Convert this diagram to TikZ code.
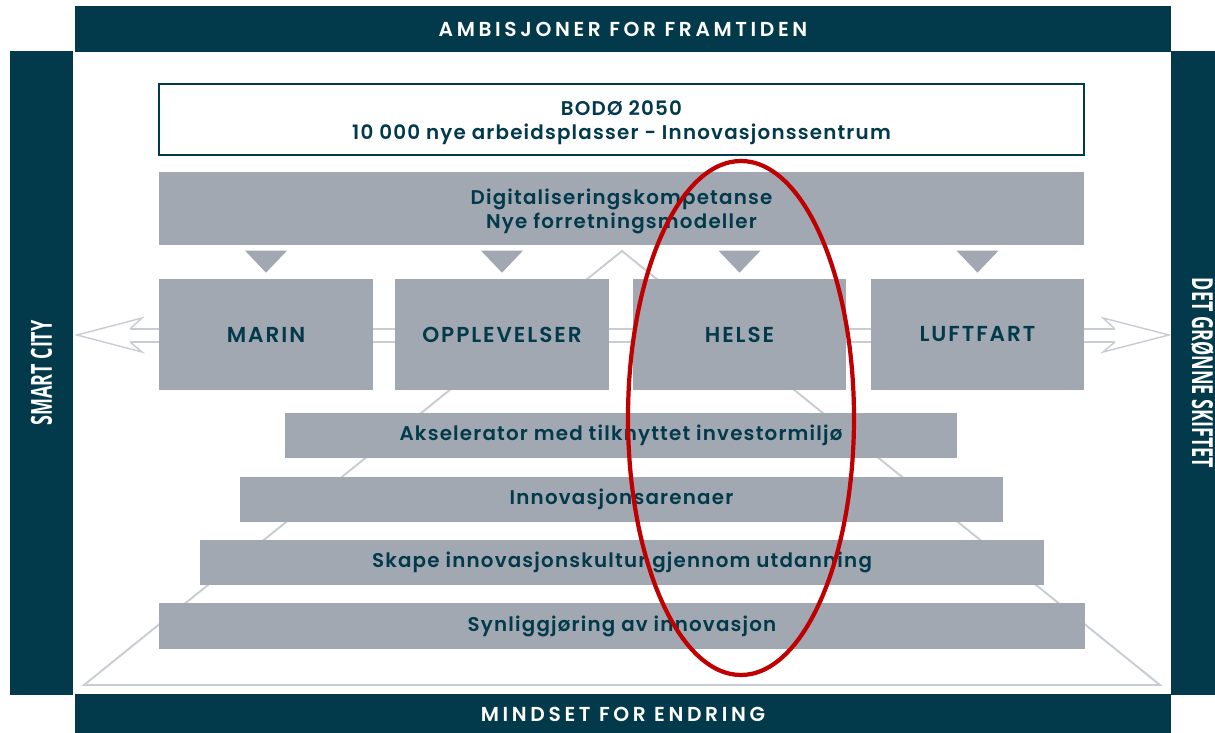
\documentclass[tikz,border=0pt]{standalone}
\usepackage{fontspec}
\setmainfont{Poppins}[LetterSpace=6, BoldFont={* SemiBold}]
\newfontfamily\sidefont{Open Sans}[FakeStretch=0.62]
\usepackage{tikz}
\definecolor{navy}{HTML}{023A4C}
\definecolor{slate}{HTML}{A2A8B2}
\definecolor{pale}{HTML}{C8CCD3}
\definecolor{ring}{HTML}{C00000}

\begin{document}
\begin{tikzpicture}[x = 0.02cm, y = -0.02cm,
        bar/.style = {fill = navy, text = white, inner sep = 0pt, font = \bfseries\addfontfeature{LetterSpace=18}\fontsize{11.5}{13}\selectfont},
        sidebar/.style = {fill = navy, text = white, inner sep = 0pt, minimum width = 12.88cm, minimum height = 1.26cm, font = \sidefont\bfseries\fontsize{16.5}{18}\selectfont},
        block/.style = {fill = slate, text = navy, inner sep = 0pt, align = center, font = \bfseries\fontsize{11.3}{13.6}\selectfont},
        sector/.style = {block, minimum width = 4.28cm, minimum height = 2.22cm, font = \bfseries\addfontfeature{LetterSpace=9}\fontsize{12.3}{14}\selectfont},
        layer/.style = {block, minimum height = 0.9cm},
        pipe/.style = {draw = pale, line width = 0.8pt, line join = miter}
    ]
        \useasboundingbox (0, 0) rectangle (1215, 733);
        \fill[white] (0, 0) rectangle (1215, 733);
        \draw[pale, line width = 1.1pt] (84, 685) -- (622, 251) -- (1160, 685) -- cycle;
        \coordinate (ltip) at (77, 335);
        \coordinate (rtip) at (1169, 335);
        \draw[pipe] (130, 329) -- (1115, 329);
        \draw[pipe] (130, 342) -- (1115, 342);
        \draw[pipe] (130, 329) -- (142, 318) -- (ltip) -- (142, 352) -- (130, 342);
        \draw[pipe] (1115, 329) -- (1103, 318) -- (rtip) -- (1103, 352) -- (1115, 342);
        \node[bar, minimum width = 21.92cm, minimum height = 0.92cm] (ambition) at (623, 29) {AMBISJONER FOR FRAMTIDEN};
        \node[bar, minimum width = 21.92cm, minimum height = 0.8cm] (mindset) at (623, 714) {MINDSET FOR ENDRING};
        \node[sidebar, rotate = 90] (smart) at (41.5, 373) {SMART CITY};
        \node[sidebar, rotate = -90] (green) at (1202.5, 373) {DET GRØNNE SKIFTET};
        \node[block, fill = white, draw = navy, line width = 0.8pt, text height = 25.5pt, minimum width = 18.5cm, minimum height = 1.42cm] (vision) at (621.5, 119.5) {BODØ 2050\\10 000 nye arbeidsplasser - Innovasjonssentrum};
        \node[block, text height = 25.5pt, minimum width = 18.5cm, minimum height = 1.46cm] (digital) at (621.5, 208.5) {Digitaliseringskompetanse\\Nye forretningsmodeller};
        \node[sector] (marin) at (266, 334.5) {MARIN};
        \node[sector] (opplevelser) at (502, 334.5) {OPPLEVELSER};
        \node[sector] (helse) at (739.5, 334.5) {HELSE};
        \node[sector] (luftfart) at (977.5, 334.5) {LUFTFART};
        \foreach \s in {marin, opplevelser, helse, luftfart}
            {
                \fill[slate] (\s.north) ++(-21, -28) -- ++(42, 0) -- ++(-21, 22) -- cycle;
            }
        \node[layer, minimum width = 13.44cm] (akselerator) at (621, 435.5) {Akselerator med tilknyttet investormiljø};
        \node[layer, minimum width = 15.26cm] (arenaer) at (621.5, 499.5) {Innovasjonsarenaer};
        \node[layer, minimum width = 16.88cm] (kultur) at (622, 562.5) {Skape innovasjonskultur gjennom utdanning};
        \node[layer, minimum width = 18.52cm, minimum height = 0.92cm] (synlig) at (622, 626) {Synliggjøring av innovasjon};
        \draw[ring, line width = 2.4pt] (741, 418) ellipse [x radius = 113, y radius = 257];
    \end{tikzpicture}
\end{document}
